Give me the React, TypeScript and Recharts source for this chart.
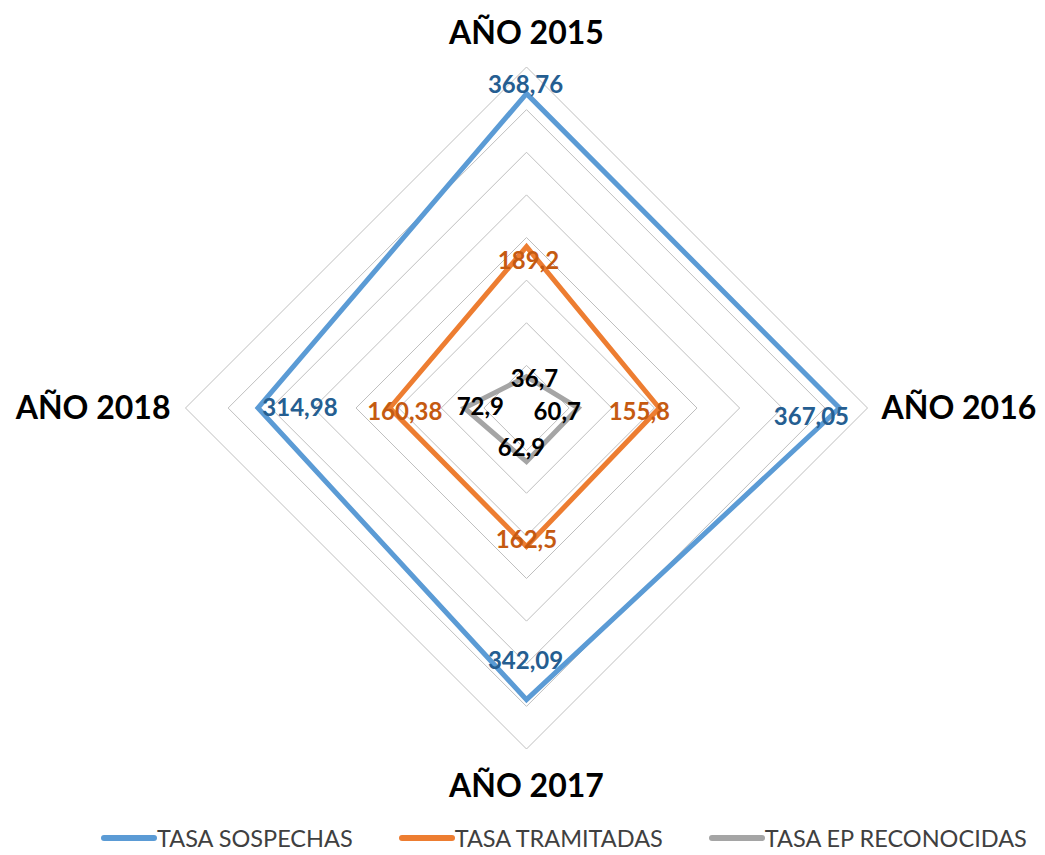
import React from 'react';
import {
    RadarChart,
    Radar,
    PolarGrid,
    PolarAngleAxis,
    PolarRadiusAxis,
    Legend,
} from 'recharts';

const years = ['AÑO 2015', 'AÑO 2016', 'AÑO 2017', 'AÑO 2018'];
const sospechas = [368.76, 367.05, 342.09, 314.98];
const tramitadas = [189.2, 155.8, 162.5, 160.38];
const reconocidas = [36.7, 60.7, 62.9, 72.9];
const radiusTicks = [0, 50, 100, 150, 200, 250, 300, 350, 400];
const seriesNames = ['TASA SOSPECHAS', 'TASA TRAMITADAS', 'TASA EP RECONOCIDAS'];

const data = years.map((year, i) => ({
    year,
    sospechas: sospechas[i],
    tramitadas: tramitadas[i],
    reconocidas: reconocidas[i],
}));

const FONT = 'Lato, "Open Sans", sans-serif';

// label offsets per point (top, right, bottom, left)
const labelOffsets: Record<string, [number, number][]> = {
    sospechas: [[-1, -10], [-28, 7], [-1, -40], [42, -2]],
    tramitadas: [[2, 13], [-20, 2], [0, -8], [15, 2]],
    reconocidas: [[8, 1], [-21, 2], [-5, -15], [16, -3]],
};

const fmt = (v: number) => String(v).replace('.', ',');

const makeLabelDot = (key: string, values: number[], color: string) => (props: any) => {
    const { cx, cy, index } = props;
    const [dx, dy] = labelOffsets[key][index];
    return (
        <text
            key={`${key}-${index}`}
            x={cx + dx}
            y={cy + dy}
            textAnchor="middle"
            dominantBaseline="central"
            fill={color}
            fontFamily={FONT}
            fontWeight={700}
            fontSize={24}
        >
            {fmt(values[index])}
        </text>
    );
};

const tickOffsets: { dx: number; dy: number; anchor: string }[] = [
    { dx: 0, dy: -15, anchor: 'middle' },
    { dx: 6, dy: 11, anchor: 'start' },
    { dx: 0, dy: 40, anchor: 'middle' },
    { dx: -7, dy: 11, anchor: 'end' },
];

const AxisTick = (props: any) => {
    const { x, y, payload, index } = props;
    const o = tickOffsets[index] || tickOffsets[0];
    return (
        <text
            x={x + o.dx}
            y={y + o.dy}
            textAnchor={o.anchor}
            fill="#000"
            fontFamily={FONT}
            fontWeight={700}
            fontSize={32}
        >
            {payload.value}
        </text>
    );
};

const LegendContent = ({ payload }: any) => {
    const items = seriesNames
        .map((n) => (payload || []).find((p: any) => p.value === n))
        .filter(Boolean);
    return (
        <div style={{ display: 'flex', alignItems: 'center', paddingLeft: 101, gap: 46 }}>
            {items.map((entry: any) => (
                <div key={entry.value} style={{ display: 'flex', alignItems: 'center' }}>
                    <span
                        style={{
                            display: 'inline-block',
                            width: 56,
                            height: 6,
                            borderRadius: 3,
                            background: entry.color,
                        }}
                    />
                    <span style={{ fontFamily: FONT, fontSize: 23.5, color: '#404040', lineHeight: '24px' }}>
                        {entry.value}
                    </span>
                </div>
            ))}
        </div>
    );
};

export default function App() {
    return (
        <div style={{ position: 'absolute', left: 0, top: 0, width: 1045, height: 855, background: '#fff' }}>
            <RadarChart
                width={1045}
                height={855}
                data={data}
                cx={526.5}
                cy={408}
                outerRadius={341}
                margin={{ top: 0, right: 0, bottom: 0, left: 0 }}
            >
                <PolarGrid gridType="polygon" radialLines={false} stroke="#bfbfbf" strokeWidth={1} />
                <PolarAngleAxis dataKey="year" tick={<AxisTick />} tickLine={false} axisLine={false} />
                <PolarRadiusAxis
                    domain={[0, 400]}
                    ticks={radiusTicks as any}
                    tickCount={9}
                    tick={false}
                    axisLine={false}
                />
                <Radar
                    name={seriesNames[0]}
                    dataKey="sospechas"
                    stroke="#5B9BD5"
                    strokeWidth={5}
                    fill="none"
                    fillOpacity={0}
                    dot={makeLabelDot('sospechas', sospechas, '#255E91')}
                    isAnimationActive={false}
                />
                <Radar
                    name={seriesNames[1]}
                    dataKey="tramitadas"
                    stroke="#ED7D31"
                    strokeWidth={5}
                    fill="none"
                    fillOpacity={0}
                    dot={makeLabelDot('tramitadas', tramitadas, '#C55A11')}
                    isAnimationActive={false}
                />
                <Radar
                    name={seriesNames[2]}
                    dataKey="reconocidas"
                    stroke="#A5A5A5"
                    strokeWidth={5}
                    fill="none"
                    fillOpacity={0}
                    dot={makeLabelDot('reconocidas', reconocidas, '#000')}
                    isAnimationActive={false}
                />
                <Legend
                    content={<LegendContent />}
                    wrapperStyle={{ position: 'absolute', left: 0, top: 826, width: 1045, bottom: 'auto' }}
                />
            </RadarChart>
        </div>
    );
}
